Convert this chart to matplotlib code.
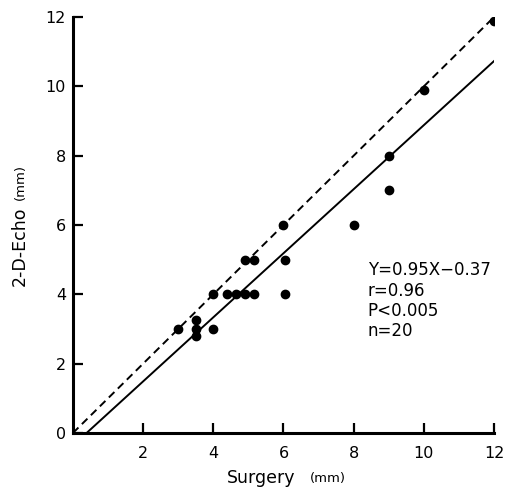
import matplotlib
matplotlib.use("Agg")
import matplotlib.pyplot as plt

# data
surgery = [3, 3.5, 3.5, 3.5, 4, 4, 4.4, 4.65, 4.9, 5.15, 6.05,
           4.9, 5.15, 6.05, 6.0, 8.0, 9.0, 9.0, 10.0, 12.0]
echo = [3.0, 3.25, 3.0, 2.8, 3.0, 4.0, 4.0, 4.0, 4.0, 4.0, 4.0,
        5.0, 5.0, 5.0, 6.0, 6.0, 8.0, 7.0, 9.9, 11.9]
identity_x = [0, 12]
identity_y = [0, 12]
reg_x = [0.39, 12]
reg_y = [0, 10.73]
stats = ["Y=0.95X\u22120.37", "r=0.96", "P<0.005", "n=20"]

plt.rcParams['font.family'] = ['DejaVu Sans']

fig = plt.figure(figsize=(5.17, 4.88), dpi=100)
ax = fig.add_axes([0.141, 0.1127, 0.8145, 0.8523])

ax.plot(identity_x, identity_y, color='black', lw=1.4, ls=(0, (4, 2.5)))
ax.plot(reg_x, reg_y, color='black', lw=1.4)
ax.scatter(surgery, echo, s=36, color='black', zorder=3)

ax.set_xlim(0, 12)
ax.set_ylim(0, 12)
ax.set_xticks(range(2, 13, 2))
ax.set_yticks(range(0, 13, 2))
for s in ['top', 'right']:
    ax.spines[s].set_visible(False)
for s in ['left', 'bottom']:
    ax.spines[s].set_linewidth(2.2)
ax.tick_params(direction='in', length=7, width=1.6, labelsize=11.5, pad=9)
ax.tick_params(axis='y', pad=5)

fig.text(0.039, 0.495, "2-D-Echo", rotation=90, fontsize=12.5, ha='center', va='center')
fig.text(0.040, 0.627, "(mm)", rotation=90, fontsize=9.5, ha='center', va='center')
fig.text(0.506, 0.02, "Surgery", fontsize=12.5, ha='center', va='center')
fig.text(0.634, 0.02, "(mm)", fontsize=9.5, ha='center', va='center')

for i, line in enumerate(stats):
    ax.text(8.4, 4.7 - i * 0.59, line, fontsize=12, va='center')

fig.savefig("out.png", dpi=100)
